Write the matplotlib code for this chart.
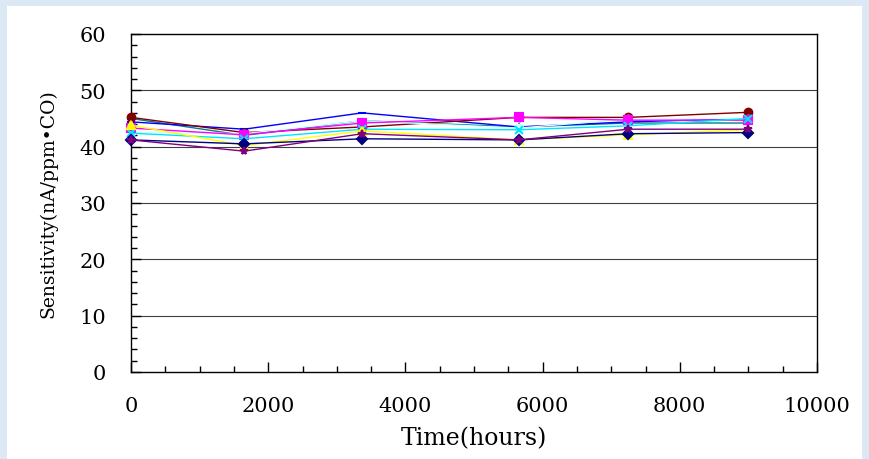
import matplotlib; matplotlib.use('Agg')
import matplotlib.pyplot as plt
from matplotlib.patches import Rectangle
from matplotlib.ticker import MultipleLocator

# time points (hours)
hours = [0, 1650, 3370, 5650, 7250, 9000]

# sensitivity of each sensor (nA/ppm CO)
s_navy = [41.2, 40.5, 41.4, 41.2, 42.3, 42.5]
s_magenta = [43.3, 42.1, 44.2, 45.2, 44.7, 44.7]
s_yellow = [43.8, 40.2, 42.8, 41.2, 42.1, 43.0]
s_cyan = [42.4, 41.4, 43.1, 43.0, 43.7, 45.0]
s_purple = [41.2, 39.2, 42.3, 41.2, 43.1, 43.1]
s_maroon = [45.2, 42.5, 43.5, 45.2, 45.2, 46.1]
s_teal = [45.0, 42.0, 44.6, 43.5, 44.2, 44.2]
s_blue = [44.4, 43.1, 46.0, 43.5, 44.4, 45.0]
s_lightcyan = [42.6, 42.3, 44.6, 43.3, 44.9, 45.0]

series = [
    (s_teal, '#008080', '+'),
    (s_blue, '#0000ff', '_'),
    (s_maroon, '#800000', 'o'),
    (s_lightcyan, '#ccffff', 'o'),
    (s_magenta, '#ff00ff', 's'),
    (s_cyan, '#00e5ff', 'x'),
    (s_yellow, '#ffff00', '^'),
    (s_navy, '#000080', 'D'),
    (s_purple, '#800080', '*'),
]

plt.rcParams['font.family'] = ['DejaVu Serif']

fig = plt.figure(figsize=(8.7, 4.6), dpi=100)
fig.patch.set_facecolor('#dde8f5')
fig.patches.append(Rectangle((7 / 870, 0), 855 / 870, 453 / 460, transform=fig.transFigure,
                             facecolor='white', edgecolor='none', zorder=-10))

ax = fig.add_axes([131 / 870, 1 - 373 / 460, 686 / 870, 338 / 460])
ax.set_facecolor('white')

for vals, color, mk in series:
    ax.plot(hours, vals, color=color, lw=1.0, marker=mk, ms=5.5, mew=1.5,
            mec=color, mfc=color, zorder=3, clip_on=False)

ax.set_xlim(0, 10000)
ax.set_ylim(0, 60)
ax.xaxis.set_major_locator(MultipleLocator(2000))
ax.xaxis.set_minor_locator(MultipleLocator(500))
ax.yaxis.set_major_locator(MultipleLocator(10))
ax.yaxis.set_minor_locator(MultipleLocator(2))
ax.tick_params(which='both', direction='in', colors='black', labelsize=15)
ax.tick_params(which='major', length=7, width=1)
ax.tick_params(which='minor', length=4, width=1)
ax.tick_params(axis='x', pad=17)
ax.tick_params(axis='y', pad=18)

for y in range(10, 60, 10):
    ax.axhline(y, color='#404040', lw=0.8, zorder=1)

for sp in ax.spines.values():
    sp.set_linewidth(1.0)
    sp.set_color('black')

ax.set_xlabel('Time(hours)', fontsize=17, labelpad=8)
ax.set_ylabel('Sensitivity(nA/ppm•CO)', fontsize=13.5, labelpad=16)

fig.savefig('out.png', dpi=100, facecolor=fig.get_facecolor())
